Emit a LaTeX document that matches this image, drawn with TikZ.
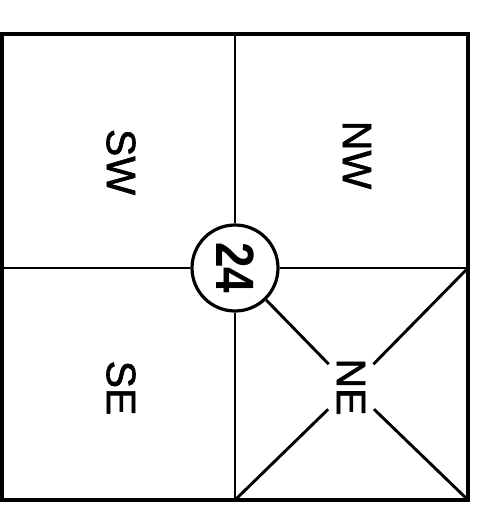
\documentclass[tikz,border=0pt]{standalone}
\usepackage{fontspec}
\setmainfont{Liberation Sans}
\newfontfamily\labelfont[FakeBold=1.5]{Liberation Sans}
\begin{document}
\begin{tikzpicture}[x=1pt,y=-1pt,
  frame/.style={line width=3.6pt},
  grid/.style={line width=2.9pt},
  quad/.style={font=\labelfont\fontsize{41}{41}\selectfont, rotate=-90, inner sep=0pt},
  hub/.style={circle, draw, line width=3.2pt, minimum size=86pt, inner sep=0pt, font=\bfseries\fontsize{54}{54}\selectfont},
]
\useasboundingbox (0,0) rectangle (494,505);
\coordinate (tl) at (2,34);
\coordinate (br) at (468,500);
\coordinate (tm) at (235,34);
\coordinate (bm) at (235,500);
\coordinate (lm) at (2,268);
\coordinate (rm) at (468,268);
\coordinate (bl) at (235,500);
\node[hub] (c) at (235,268) {\rotatebox{-90}{\scalebox{0.85}[1]{24}}};
\node[quad] (sw) at (121,162) {SW};
\node[quad] (nw) at (357,155) {NW};
\node[quad] (se) at (121,388) {SE};
\node[quad, circle, minimum size=62pt] (ne) at (351,387) {NE};
\draw[frame] (tl) rectangle (br);
\draw[grid] (tm) -- (c.north);
\draw[grid] (c.south) -- (bm);
\draw[grid] (lm) -- (c.west);
\draw[grid] (c.east) -- (rm);
\draw[grid] (c) -- (ne);
\draw[grid] (ne) -- (br);
\draw[grid] (rm) -- (ne);
\draw[grid] (ne) -- (bl);
\end{tikzpicture}
\end{document}
